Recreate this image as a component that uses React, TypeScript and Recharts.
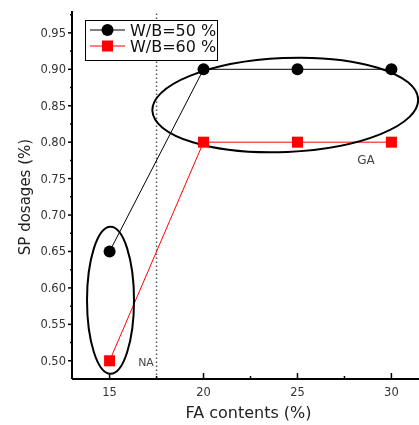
import React from 'react';
import { LineChart, Line, XAxis, YAxis, ReferenceLine, ReferenceDot, Legend } from 'recharts';

// FA content (%) on the x axis
const faContents = [15, 20, 25, 30];
// SP dosage (%) for each water/binder ratio
const dosageWB50 = [0.65, 0.9, 0.9, 0.9];
const dosageWB60 = [0.5, 0.8, 0.8, 0.8];
const seriesNames = ['W/B=50 %', 'W/B=60 %'];

const xTicks = [15, 17.5, 20, 22.5, 25, 27.5, 30];
const yTicks = [
  0.5, 0.525, 0.55, 0.575, 0.6, 0.625, 0.65, 0.675, 0.7, 0.725,
  0.75, 0.775, 0.8, 0.825, 0.85, 0.875, 0.9, 0.925, 0.95, 0.975,
];

// boundary between the NA and GA zones
const zoneLimit = 17.5;
// centres of the grouping ellipses and zone labels
const groupCentres = [
  { x: 24.35, y: 0.851 },
  { x: 15.05, y: 0.583 },
];
const zoneLabels = [
  { text: 'GA', x: 28.65, y: 0.7755 },
  { text: 'NA', x: 16.94, y: 0.497 },
];

const data = faContents.map((fa, i) => ({
  fa,
  wb50: dosageWB50[i],
  wb60: dosageWB60[i],
}));

const FONT = '"DejaVu Sans", sans-serif';

const isMajorX = (v: number) => v % 5 === 0;
const isMajorY = (v: number) => Math.abs(v * 20 - Math.round(v * 20)) < 1e-6;

function BottomTick({ x, y, payload }: any) {
  const v = payload.value;
  const major = isMajorX(v);
  return (
    <g>
      <line x1={x} x2={x} y1={y} y2={y - (major ? 6 : 3)} stroke="#000" strokeWidth={1.5} />
      {major && (
        <text x={x} y={y + 17} textAnchor="middle" fontSize={11.5} fill="#333" fontFamily={FONT}>
          {v}
        </text>
      )}
    </g>
  );
}

function TopTick({ x, y, payload }: any) {
  const major = isMajorX(payload.value);
  return <line x1={x} x2={x} y1={y} y2={y + (major ? 4 : 3)} stroke="#000" strokeWidth={1} />;
}

function LeftTick({ x, y, payload }: any) {
  const v = payload.value;
  const major = isMajorY(v);
  return (
    <g>
      <line x1={x} x2={x - (major ? 4 : 2)} y1={y} y2={y} stroke="#000" strokeWidth={1.5} />
      {major && (
        <text x={x - 6} y={y + 4} textAnchor="end" fontSize={11.5} fill="#333" fontFamily={FONT}>
          {v.toFixed(2)}
        </text>
      )}
    </g>
  );
}

const circleDot = (p: any) => <circle key={`c${p.index}`} cx={p.cx} cy={p.cy} r={6} fill="#000" />;
const squareDot = (p: any) => (
  <rect key={`s${p.index}`} x={p.cx - 5.5} y={p.cy - 5.5} width={11} height={11} fill="#f00" />
);

function LegendBox() {
  const rows = [
    { name: seriesNames[0], color: '#000', square: false },
    { name: seriesNames[1], color: '#f00', square: true },
  ];
  return (
    <svg width={133} height={41} style={{ display: 'block' }}>
      <rect x={0.5} y={0.5} width={132} height={40} fill="#fff" stroke="#000" />
      {rows.map((r, i) => {
        const cy = 10 + i * 16;
        return (
          <g key={r.name}>
            <line x1={5} x2={40} y1={cy} y2={cy} stroke={r.color} strokeWidth={1} />
            {r.square ? (
              <rect x={17} y={cy - 5.5} width={11} height={11} fill={r.color} />
            ) : (
              <circle cx={22.5} cy={cy} r={6} fill={r.color} />
            )}
            <text x={45} y={cy + 5.5} fontSize={16} fontFamily={FONT} fill="#111">
              {r.name}
            </text>
          </g>
        );
      })}
    </svg>
  );
}

export default function App() {
  // fixed so the clipped right edge of the plot never adds scrollbars
  return (
    <div
      style={{
        position: 'fixed',
        left: 8,
        top: 8,
        width: 411,
        height: 417,
        overflow: 'hidden',
        fontFamily: FONT,
      }}
    >
      <LineChart width={440} height={417} data={data} margin={{ top: 3, right: 19, bottom: 0, left: 0 }}>
        <XAxis
          dataKey="fa"
          type="number"
          domain={[13, 32]}
          ticks={xTicks}
          interval={0}
          height={46}
          axisLine={{ stroke: '#000', strokeWidth: 2 }}
          tickLine={false}
          tickSize={0}
          tickMargin={0}
          tick={<BottomTick />}
          label={{
            content: ({ viewBox }: any) => (
              <text
                x={viewBox.x + viewBox.width / 2 - 2}
                y={viewBox.y + 39}
                textAnchor="middle"
                fontSize={16}
                fill="#222"
                fontFamily={FONT}
              >
                FA contents (%)
              </text>
            ),
          }}
        />
        <XAxis
          xAxisId="top"
          dataKey="fa"
          type="number"
          orientation="top"
          domain={[13, 32]}
          ticks={xTicks}
          interval={0}
          height={0}
          mirror
          axisLine={{ stroke: '#000', strokeWidth: 2 }}
          tickLine={false}
          tickSize={0}
          tickMargin={0}
          tick={<TopTick />}
        />
        <YAxis
          type="number"
          domain={[0.475, 0.98]}
          ticks={yTicks}
          interval={0}
          width={64}
          axisLine={{ stroke: '#000', strokeWidth: 2 }}
          tickLine={false}
          tickSize={0}
          tickMargin={0}
          tick={<LeftTick />}
          label={{
            content: ({ viewBox }: any) => {
              const cx = 17;
              const cy = viewBox.y + viewBox.height / 2 + 2;
              return (
                <text
                  x={cx}
                  y={cy}
                  transform={`rotate(-90 ${cx} ${cy})`}
                  textAnchor="middle"
                  dominantBaseline="central"
                  fontSize={15}
                  fill="#222"
                  fontFamily={FONT}
                >
                  SP dosages (%)
                </text>
              );
            },
          }}
        />
        <ReferenceLine x={zoneLimit} stroke="#555" strokeWidth={1.5} strokeDasharray="1.5 2.5" />
        <ReferenceDot
          x={groupCentres[0].x}
          y={groupCentres[0].y}
          r={1}
          ifOverflow="visible"
          shape={(p: any) => (
            <ellipse
              cx={p.cx}
              cy={p.cy}
              rx={133}
              ry={47}
              transform={`rotate(-2.5 ${p.cx} ${p.cy})`}
              fill="none"
              stroke="#000"
              strokeWidth={2}
            />
          )}
        />
        <ReferenceDot
          x={groupCentres[1].x}
          y={groupCentres[1].y}
          r={1}
          ifOverflow="visible"
          shape={(p: any) => (
            <ellipse cx={p.cx} cy={p.cy} rx={23.5} ry={73.5} fill="none" stroke="#000" strokeWidth={2} />
          )}
        />
        {zoneLabels.map((z) => (
          <ReferenceDot
            key={z.text}
            x={z.x}
            y={z.y}
            r={1}
            ifOverflow="visible"
            shape={(p: any) => (
              <text
                x={p.cx}
                y={p.cy}
                textAnchor="middle"
                dominantBaseline="central"
                fontSize={z.text === 'GA' ? 12 : 11}
                fill="#444"
                fontFamily={FONT}
              >
                {z.text}
              </text>
            )}
          />
        ))}
        <Line
          dataKey="wb50"
          name={seriesNames[0]}
          stroke="#000"
          strokeWidth={1}
          dot={circleDot}
          isAnimationActive={false}
        />
        <Line
          dataKey="wb60"
          name={seriesNames[1]}
          stroke="#f00"
          strokeWidth={1}
          dot={squareDot}
          isAnimationActive={false}
        />
        <Legend
          layout="vertical"
          align="center"
          verticalAlign="middle"
          wrapperStyle={{ left: 77, top: 12 }}
          content={() => <LegendBox />}
        />
      </LineChart>
    </div>
  );
}
